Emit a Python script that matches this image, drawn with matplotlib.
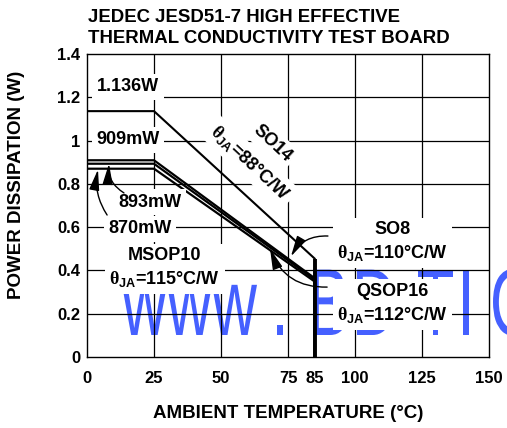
import matplotlib
matplotlib.use('Agg')
import matplotlib.pyplot as plt
from matplotlib.textpath import TextPath
from matplotlib.font_manager import FontProperties
from matplotlib.patches import PathPatch
from matplotlib.transforms import Affine2D, IdentityTransform

# --- data ---
packages = ['SO14', 'SO8', 'QSOP16', 'MSOP10']
p_max = [1.136, 0.909, 0.893, 0.870]       # W at 25C
theta_ja = [88, 110, 112, 115]             # C/W
t_knee = 25
t_max = 85
x_ticks = [0, 25, 50, 75, 85, 100, 125, 150]
x_grid = [25, 50, 75, 100, 125]
y_ticks = [0, 0.2, 0.4, 0.6, 0.8, 1, 1.2, 1.4]
y_tick_labels = ['0', '0.2', '0.4', '0.6', '0.8', '1', '1.2', '1.4']

plt.rcParams['font.family'] = ['Liberation Sans', 'DejaVu Sans']
plt.rcParams['font.weight'] = 'bold'
plt.rcParams['mathtext.fontset'] = 'custom'
plt.rcParams['mathtext.rm'] = 'Liberation Serif'
plt.rcParams['mathtext.it'] = 'Liberation Sans:italic'
plt.rcParams['mathtext.bf'] = 'Liberation Sans:bold'

W, H = 507, 428
fig = plt.figure(figsize=(W / 100, H / 100), dpi=100)
ax = fig.add_axes([87 / W, 1 - 357 / H, 402 / W, 303 / H])
ax.set_xlim(0, 150)
ax.set_ylim(0, 1.4)

# watermark (condensed letters, placed one by one), under grid and labels
wm_chars = list('www.BDTIC')
wm_left = [122, 167, 212, 277, 313, 357, 418, 463, 493]
wm_base = H - 335
fp = FontProperties(family='Liberation Sans', weight='normal')
for ch, xl in zip(wm_chars, wm_left):
    tp = TextPath((0, 0), ch, size=1, prop=fp)
    ext = tp.get_extents()
    tr = Affine2D().translate(-ext.x0, 0).scale(62, 95).translate(xl, wm_base)
    patch = PathPatch(tr.transform_path(tp), fc='#4560ff', ec='none',
                      transform=IdentityTransform(), zorder=1, clip_on=False)
    ax.add_artist(patch)

# grid
for xg in x_grid:
    ax.axvline(xg, color='black', lw=0.9, zorder=2)
for yg in y_ticks[1:-1]:
    ax.axhline(yg, color='black', lw=0.9, zorder=2)

# derating curves
for name, p, th in zip(packages, p_max, theta_ja):
    p_end = p - (t_max - t_knee) / th
    lw = 1.5 if name == 'SO14' else 1.6
    ax.plot([0, t_knee, t_max, t_max], [p, p, p_end, 0], color='black',
            lw=lw, solid_joinstyle='miter', zorder=3)
ax.vlines(t_max, 0, max(p - (t_max - t_knee) / th for p, th in zip(p_max, theta_ja)),
          color='black', lw=2.8, zorder=3)

ax.set_xticks(x_ticks)
ax.set_xticklabels([str(v) for v in x_ticks], fontsize=12, fontweight='bold')
ax.set_yticks(y_ticks)
ax.set_yticklabels(y_tick_labels, fontsize=12, fontweight='bold')
ax.tick_params(length=0)
ax.tick_params(axis='x', pad=10)
ax.tick_params(axis='y', pad=5)
for s in ax.spines.values():
    s.set_linewidth(1.0)
    s.set_zorder(5)
ax.patch.set_alpha(0)

box = dict(boxstyle='square,pad=0.25', fc='white', ec='none')
kw = dict(fontsize=13, fontweight='bold', ha='center', va='center', bbox=box, zorder=4)
th_lbl = r'$\mathrm{\theta}_{\mathbf{JA}}$'

ax.text(15.3, 1.248, '1.136W', **kw)
ax.text(15.3, 1.003, '909mW', **kw)
ax.text(23.5, 0.716, '893mW', **kw)
ax.text(19.8, 0.592, '870mW', **kw)
ax.text(29, 0.41, 'MSOP10\n' + th_lbl + '=115°C/W', linespacing=1.35, **kw)
ax.text(114, 0.53, 'SO8\n' + th_lbl + '=110°C/W', linespacing=1.35, **kw)
ax.text(114, 0.245, 'QSOP16\n' + th_lbl + '=112°C/W', linespacing=1.35, **kw)
ax.text(69, 0.989, 'SO14', rotation=-43, rotation_mode='anchor', **kw)
ax.text(60.8, 0.897, th_lbl + '=88°C/W', rotation=-43, rotation_mode='anchor', **kw)

arrow = dict(arrowstyle='-|>,head_length=0.9,head_width=0.22', color='black',
             lw=1.0, mutation_scale=14, shrinkA=0, shrinkB=0)
ax.annotate('', xy=(8.2, 0.893), xytext=(13.8, 0.758),
            arrowprops=dict(connectionstyle='arc3,rad=-0.3', **arrow), zorder=5)
ax.annotate('', xy=(4.1, 0.866), xytext=(7.5, 0.656),
            arrowprops=dict(connectionstyle='arc3,rad=-0.2', **arrow), zorder=5)
ax.annotate('', xy=(76.1, 0.465), xytext=(89.9, 0.559),
            arrowprops=dict(connectionstyle='arc3,rad=0.3', **arrow), zorder=5)
ax.annotate('', xy=(68.3, 0.5), xytext=(89.6, 0.323),
            arrowprops=dict(connectionstyle='arc3,rad=-0.35', **arrow), zorder=5)

fig.text(88 / W, 1 - 9 / H, 'JEDEC JESD51-7 HIGH EFFECTIVE\nTHERMAL CONDUCTIVITY TEST BOARD',
         fontsize=13.4, fontweight='bold', ha='left', va='top', linespacing=1.27)
fig.text(17 / W, 1 - 185 / H, 'POWER DISSIPATION (W)', fontsize=13.5, fontweight='bold',
         rotation=90, ha='center', va='center')
fig.text(288 / W, 1 - 413 / H, 'AMBIENT TEMPERATURE (°C)', fontsize=13.5, fontweight='bold',
         ha='center', va='center')

fig.savefig('out.png', dpi=100)
